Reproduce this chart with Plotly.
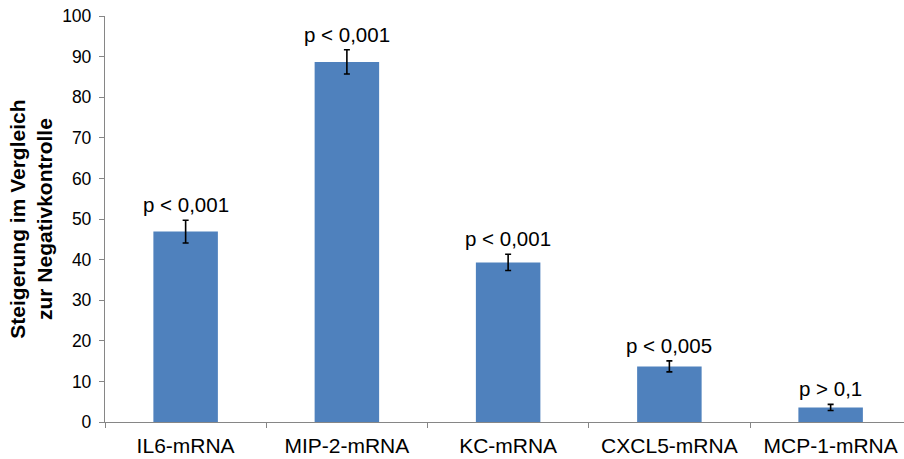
import plotly.graph_objects as go

# Fold-change per transcript relative to the negative control
categories = ["IL6-mRNA", "MIP-2-mRNA", "KC-mRNA", "CXCL5-mRNA", "MCP-1-mRNA"]
values = [46.9, 88.7, 39.3, 13.7, 3.6]
errors = [2.8, 3.0, 2.0, 1.35, 0.75]
p_labels = ["p < 0,001", "p < 0,001", "p < 0,001", "p < 0,005", "p > 0,1"]
y_ticks = [0, 10, 20, 30, 40, 50, 60, 70, 80, 90, 100]

FONT = "Liberation Sans, Arial, sans-serif"
AXIS_GREY = "#868686"

fig = go.Figure(
    go.Bar(
        x=categories,
        y=values,
        width=0.4,
        marker=dict(color="#4F81BD", line=dict(width=0)),
        error_y=dict(type="data", array=errors, visible=True,
                     color="black", thickness=1.6, width=3),
    )
)

for cat, val, err, lab in zip(categories, values, errors, p_labels):
    fig.add_annotation(
        x=cat, y=val + err, text=lab, showarrow=False,
        yanchor="bottom", yshift=2,
        font=dict(family=FONT, size=20.5, color="black"),
    )

fig.add_annotation(
    xref="paper", yref="paper", x=-0.093, y=0.5,
    xanchor="center", yanchor="middle", textangle=-90,
    text="<b>Steigerung im Vergleich<br>zur Negativkontrolle</b>",
    showarrow=False,
    font=dict(family=FONT, size=21, color="black"),
)

fig.update_layout(
    width=904, height=459,
    margin=dict(l=105, r=0, t=16, b=37),
    paper_bgcolor="white", plot_bgcolor="white",
    showlegend=False,
    font=dict(family=FONT, color="black"),
    xaxis=dict(
        range=[-0.5, 4.455],
        showline=True, linecolor=AXIS_GREY, linewidth=1.3,
        ticks="outside", tickson="boundaries", ticklen=5, tickcolor=AXIS_GREY,
        ticklabelstandoff=5,
        tickfont=dict(family=FONT, size=21, color="black"),
        showgrid=False,
    ),
    yaxis=dict(
        range=[0, 100], tickvals=y_ticks,
        showline=True, linecolor=AXIS_GREY, linewidth=1.3,
        ticks="outside", ticklen=5, tickcolor=AXIS_GREY,
        ticklabelstandoff=4,
        tickfont=dict(family=FONT, size=17.5, color="black"),
        showgrid=False, zeroline=False,
    ),
)

fig.write_html("out.html")
